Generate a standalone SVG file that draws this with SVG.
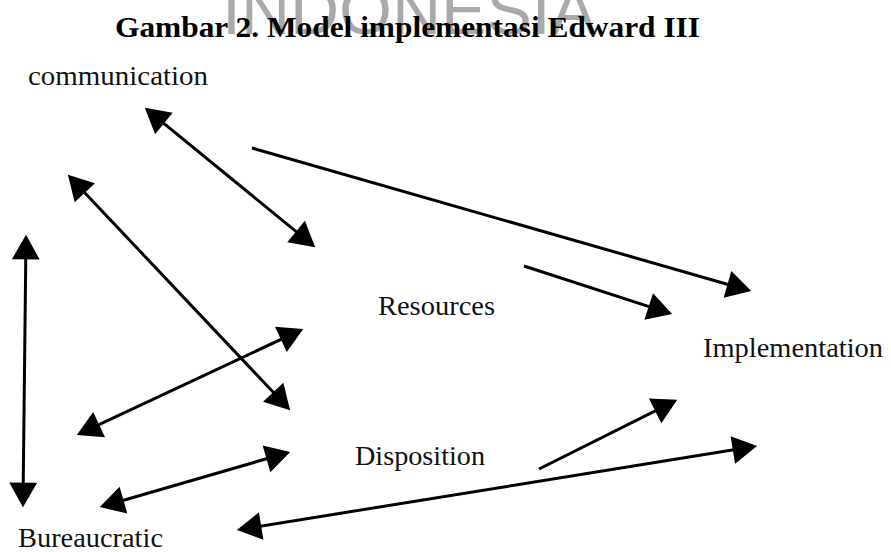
<svg xmlns="http://www.w3.org/2000/svg" width="891" height="552" viewBox="0 0 891 552">
<style>
.lbl{font-family:"Liberation Serif","Times New Roman",serif;font-size:27px;fill:#111}
.ttl{font-family:"Liberation Serif","Times New Roman",serif;font-size:30px;font-weight:bold;fill:#000}
.wm{font-family:"Liberation Sans",Arial,sans-serif;font-size:68px;fill:#a9a9a9}
.c{stroke:#000;stroke-width:3;fill:none}
.s{marker-end:url(#ah)}
.d{marker-start:url(#ah);marker-end:url(#ah)}
</style>
<defs>
<marker id="ah" markerUnits="userSpaceOnUse" markerWidth="30" markerHeight="30" refX="20" refY="0" viewBox="0 -14 24 28" orient="auto-start-reverse">
<path d="M0,-13 L23,0 L0,13 Z" fill="#000"/>
</marker>
</defs>
<rect width="891" height="552" fill="#fff"/>
<text class="wm" x="222" y="34">INDONESIA</text>
<text class="ttl" x="115" y="37" textLength="585" lengthAdjust="spacingAndGlyphs">Gambar 2. Model implementasi Edward III</text>
<g id="communication"><text class="lbl" x="28" y="85" textLength="180" lengthAdjust="spacingAndGlyphs">communication</text></g>
<g id="resources"><text class="lbl" x="378" y="315" textLength="117" lengthAdjust="spacingAndGlyphs">Resources</text></g>
<g id="implementation"><text class="lbl" x="703" y="357" textLength="180" lengthAdjust="spacingAndGlyphs">Implementation</text></g>
<g id="disposition"><text class="lbl" x="355" y="465" textLength="130" lengthAdjust="spacingAndGlyphs">Disposition</text></g>
<g id="bureaucratic"><text class="lbl" x="18" y="547" textLength="145" lengthAdjust="spacingAndGlyphs">Bureaucratic</text></g>
<g id="connectors">
<line class="c d" x1="147.3" y1="109.9" x2="312.7" y2="245.1"/>
<line class="c s" x1="252" y1="148" x2="748.1" y2="290.2"/>
<line class="c s" x1="524" y1="266" x2="669.1" y2="313.1"/>
<line class="c d" x1="70.1" y1="177.2" x2="287.9" y2="407.8"/>
<line class="c d" x1="26" y1="238" x2="23" y2="504"/>
<line class="c d" x1="79.7" y1="433.7" x2="300.3" y2="330.3"/>
<line class="c d" x1="102.9" y1="506.2" x2="287.1" y2="452.8"/>
<line class="c s" x1="539" y1="469" x2="674.3" y2="401.3"/>
<line class="c d" x1="240" y1="529.5" x2="754" y2="446.5"/>
</g>
</svg>
